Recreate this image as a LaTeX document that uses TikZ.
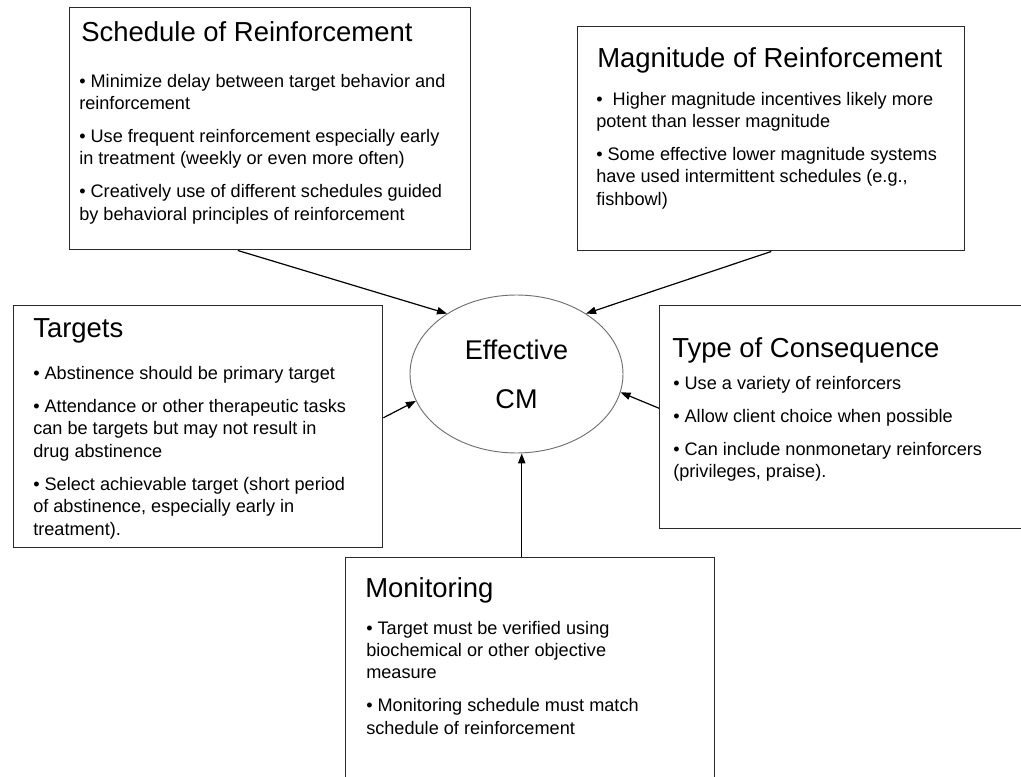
\documentclass[tikz,border=0pt]{standalone}
\usepackage{fontspec}
\setmainfont{Liberation Sans}
\usetikzlibrary{arrows.meta, positioning, shapes.geometric}
\definecolor{grisMarco}{HTML}{2A2A2A}
\definecolor{grisOvalo}{HTML}{707070}
\colorlet{colTexto}{black}
\colorlet{colFlecha}{black}
\tikzset{
  boxFrame/.style={
    draw=grisMarco, line width=1.1pt, anchor=north west,
    inner sep=0pt, fill=white
  },
  boxTitle/.style={
    anchor=base west, inner sep=0pt, text=colTexto,
    font=\fontsize{20.6}{24}\selectfont
  },
  boxBody/.style={
    anchor=north west, inner sep=0pt, align=left, text=colTexto,
    font=\fontsize{13.6}{16.7}\selectfont
  },
  ovalCM/.style={
    ellipse, draw=grisOvalo, line width=0.7pt, inner sep=0pt,
    minimum width=159.75pt, minimum height=118.5pt, align=center,
    font=\fontsize{20.3}{36.8}\selectfont
  },
  arrowIn/.style={-{Triangle[length=7.5pt, width=5.5pt]}, line width=0.9pt, colFlecha},
}

\begin{document}
\begin{tikzpicture}[x=0.75pt, y=-0.75pt]
    \useasboundingbox (0,0) rectangle (1021,777);
    \clip (0,0) rectangle (1021,777);

    % the five boxes (sizes in pt = px * 0.75)
    \node[boxFrame, minimum width=300.75pt, minimum height=181.5pt] (sched) at (69,7) {};
    \node[boxFrame, minimum width=290.25pt, minimum height=168pt] (magn) at (577,26) {};
    \node[boxFrame, minimum width=276.75pt, minimum height=181.5pt] (targ) at (13,305) {};
    \node[boxFrame, minimum width=315pt, minimum height=167.25pt] (tipo) at (659,305) {};
    \node[boxFrame, minimum width=276.75pt, minimum height=195pt] (mon) at (345,557) {};

    \node[ovalCM] (cm) at (516.5,374) {Effective\\CM};

    % titles and bullets
    \node[boxTitle] (schedT) at ([shift={(12,35)}]sched.north west) {Schedule of Reinforcement};
    \node[boxBody] (schedB) at ([shift={(10,67)}]sched.north west)
      {• Minimize delay between target behavior and\\reinforcement\\[8pt]
       • Use frequent reinforcement especially early\\in treatment (weekly or even more often)\\[8pt]
       • Creatively use of different schedules guided\\by behavioral principles of reinforcement};

    \node[boxTitle] (magnT) at ([shift={(20,42)}]magn.north west) {Magnitude of Reinforcement};
    \node[boxBody] (magnB) at ([shift={(19,66)}]magn.north west)
      {•\ \ Higher magnitude incentives likely more\\potent than lesser magnitude\\[8pt]
       • Some effective lower magnitude systems\\have used intermittent schedules (e.g.,\\fishbowl)};

    \node[boxTitle] (targT) at ([shift={(20,33)}]targ.north west) {Targets};
    \node[boxBody] (targB) at ([shift={(20,61)}]targ.north west)
      {• Abstinence should be primary target\\[8.25pt]
       • Attendance or other therapeutic tasks\\can be targets but may not result in\\drug abstinence\\[8.25pt]
       • Select achievable target (short period\\of abstinence, especially early in\\treatment).};

    \node[boxTitle] (tipoT) at ([shift={(13,53)}]tipo.north west) {Type of Consequence};
    \node[boxBody] (tipoB) at ([shift={(14,71)}]tipo.north west)
      {• Use a variety of reinforcers\\[8pt]
       • Allow client choice when possible\\[8pt]
       • Can include nonmonetary reinforcers\\(privileges, praise).};

    \node[boxTitle] (monT) at ([shift={(20,40)}]mon.north west) {Monitoring};
    \node[boxBody] (monB) at ([shift={(21,64)}]mon.north west)
      {• Target must be verified using\\biochemical or other objective\\measure\\[8pt]
       • Monitoring schedule must match\\schedule of reinforcement};

    % arrows into the oval
    \draw[arrowIn] ([shift={(-32.5,0)}]sched.south) -- (cm.139);
    \draw[arrowIn] (magn.south) -- (cm.41);
    \draw[arrowIn] ([shift={(0,-9)}]targ.east) -- (cm.195);
    \draw[arrowIn] ([shift={(0,-9)}]tipo.west) -- (cm.350);
    \draw[arrowIn] ([shift={(-8.5,0)}]mon.north) -- ([shift={(-8.5,0)}]mon.north |- cm.south);
\end{tikzpicture}
\end{document}
